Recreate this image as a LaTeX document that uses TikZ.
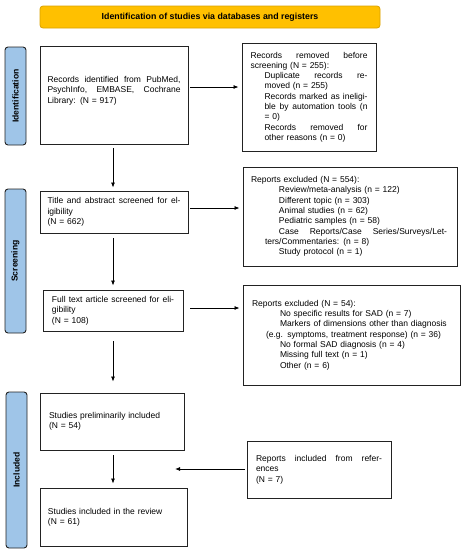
\documentclass[tikz,border=0pt]{standalone}
\usepackage{fontspec}
\setmainfont{Liberation Sans}
\usetikzlibrary{calc,arrows.meta}
\definecolor{titlefill}{HTML}{FFC000}
\definecolor{titledraw}{HTML}{D9A100}
\definecolor{barfill}{HTML}{9FC5E8}
\definecolor{boxdraw}{HTML}{222222}
\newcommand{\jl}[2]{\leavevmode\hbox to #1{#2}}
\tikzset{
  flowbox/.style={draw=boxdraw, line width=0.9pt, inner sep=0pt, align=left,
    font=\fontsize{8.5}{10.3}\selectfont},
  sidebar/.style={draw=boxdraw, line width=0.9pt, fill=barfill, rounded corners=3pt,
    inner sep=0pt, minimum width=21pt},
  sidetext/.style={rotate=90, font=\fontsize{8.6}{10}\selectfont\bfseries},
  titlebox/.style={draw=titledraw, line width=0.8pt, fill=titlefill, rounded corners=3pt,
    inner sep=0pt, font=\fontsize{8.8}{10}\selectfont\bfseries},
  arr/.style={line width=0.8pt, -{Latex[length=5pt,width=4pt]}}
}
\begin{document}
\begin{tikzpicture}[x=1pt,y=-1pt]
\useasboundingbox (0,0) rectangle (464,550);
% title
\node[titlebox, minimum width=340pt, minimum height=22pt] (title) at (210,17)
  {Identification of studies via databases and registers};
% side bars
\node[sidebar, minimum height=98pt] (idbar) at (15.5,96) {};
\node[sidetext] at (idbar.center) {Identification};
\node[sidebar, minimum height=144pt] (scrbar) at (15.5,261) {};
\node[sidetext] at (scrbar.center) {Screening};
\node[sidebar, minimum height=156pt] (incbar) at (16.5,470) {};
\node[sidetext] at (incbar.center) {Included};
% boxes
\node[flowbox, minimum width=148pt, minimum height=98pt, text width=133pt] (box1) at (114,95)
  {\jl{133pt}{Records\hfill identified\hfill from\hfill PubMed,}\\
   \jl{133pt}{PsychInfo,\hfill EMBASE,\hfill Cochrane}\\
   Library: (N = 917)\\ \mbox{}};
\node[flowbox, minimum width=134pt, minimum height=108pt, text width=117pt] (removed) at (309,97)
  {\jl{117pt}{Records\hfill removed\hfill before}\\
   screening (N = 255):\\
   \hspace*{14pt}\jl{103pt}{Duplicate\hfill records\hfill re-}\\
   \hspace*{14pt}moved (n = 255)\\
   \hspace*{14pt}\jl{103pt}{Records\hfill marked\hfill as\hfill ineligi-}\\
   \hspace*{14pt}\jl{103pt}{ble\hfill by\hfill automation\hfill tools\hfill (n}\\
   \hspace*{14pt}= 0)\\
   \hspace*{14pt}\jl{103pt}{Records\hfill removed\hfill for}\\
   \hspace*{14pt}other reasons (n = 0)};
\node[flowbox, minimum width=148pt, minimum height=42pt, text width=133pt] (tabox) at (114,212)
  {\jl{133pt}{Title\hfill and\hfill abstract\hfill screened\hfill for\hfill el-}\\
   igibility\\
   (N = 662)};
\node[flowbox, minimum width=214pt, minimum height=99pt, text width=198pt] (excl1) at (350,216.5)
  {Reports excluded (N = 554):\\
   \hspace*{28pt}\mbox{Review/meta-analysis (n = 122)}\\
   \hspace*{28pt}\mbox{Different topic (n = 303)}\\
   \hspace*{28pt}\mbox{Animal studies (n = 62)}\\
   \hspace*{28pt}\mbox{Pediatric samples (n = 58)}\\
   \hspace*{28pt}\jl{168pt}{Case\hfill Reports/Case\hfill Series/Surveys/Let-}\\
   \hspace*{14pt}\mbox{ters/Commentaries: (n = 8)}\\
   \hspace*{28pt}\mbox{Study protocol (n = 1)}};
\node[flowbox, minimum width=140pt, minimum height=41pt, text width=122pt] (ftbox) at (113,310.5)
  {\jl{122pt}{Full\hfill text\hfill article\hfill screened\hfill for\hfill eli-}\\
   gibility\\
   (N = 108)};
\node[flowbox, minimum width=217pt, minimum height=100pt, text width=199pt] (excl2) at (351.5,335)
  {Reports excluded (N = 54):\\
   \hspace*{28pt}\mbox{No specific results for SAD (n = 7)}\\
   \hspace*{28pt}\mbox{Markers of dimensions other than diagnosis}\\
   \hspace*{14pt}\mbox{(e.g. symptoms, treatment response) (n = 36)}\\
   \hspace*{28pt}\mbox{No formal SAD diagnosis (n = 4)}\\
   \hspace*{28pt}\mbox{Missing full text (n = 1)}\\
   \hspace*{28pt}\mbox{Other (n = 6)}};
\node[flowbox, minimum width=144pt, minimum height=57pt, text width=126pt] (prelim) at (112,421.5)
  {Studies preliminarily included\\
   (N = 54)};
\node[flowbox, minimum width=147pt, minimum height=58pt, text width=131pt] (incl) at (113.5,517)
  {Studies included in the review\\
   (N = 61)};
\node[flowbox, minimum width=144pt, minimum height=57pt, text width=126pt] (refs) at (319,469.5)
  {\jl{126pt}{Reports\hfill included\hfill from\hfill refer-}\\
   ences\\
   (N = 7)};
\coordinate (refsend) at (175,469);
% arrows
\draw[arr] ($(box1.east)+(2,-8)$) -- ($(removed.west)+(-3,-10)$);
\draw[arr] ($(box1.south)+(-1,4)$) -- ($(tabox.north)+(-1,-3)$);
\draw[arr] ($(tabox.east)+(2,-4)$) -- ($(excl1.west)+(-3,-8.5)$);
\draw[arr] ($(tabox.south)+(-1,5)$) -- ($(ftbox.north)+(0,-4)$);
\draw[arr] ($(ftbox.east)+(7,-2.5)$) -- ($(excl2.west)+(-3,-27)$);
\draw[arr] ($(ftbox.south)+(0,10)$) -- ($(prelim.north)+(1,-11)$);
\draw[arr] ($(prelim.south)+(1,5)$) -- ($(incl.north)+(-0.5,-4)$);
\draw[arr] ($(refs.west)+(-2,-0.5)$) -- (refsend);
\end{tikzpicture}
\end{document}
